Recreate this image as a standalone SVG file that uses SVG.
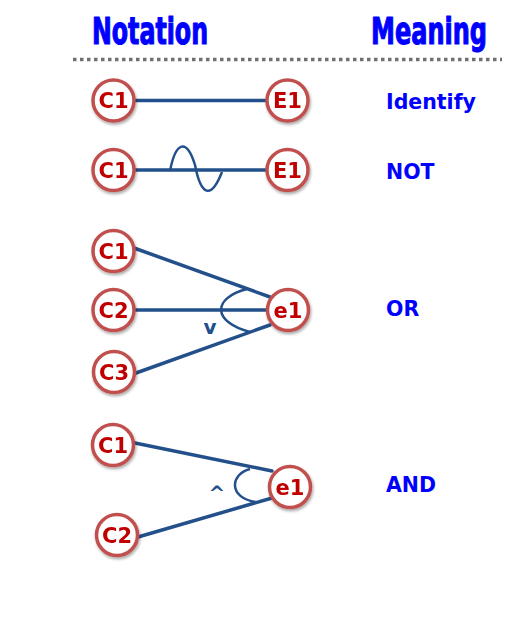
<svg xmlns="http://www.w3.org/2000/svg" width="532" height="625" viewBox="0 0 532 625">
<defs>
<filter id="sh" x="-30%" y="-30%" width="160%" height="160%">
<feGaussianBlur in="SourceAlpha" stdDeviation="1.5"/>
<feOffset dx="1" dy="2" result="b"/>
<feComponentTransfer><feFuncA type="linear" slope="0.35"/></feComponentTransfer>
<feMerge><feMergeNode/><feMergeNode in="SourceGraphic"/></feMerge>
</filter>
</defs>
<style>
.hd{font-family:"Liberation Sans Narrow","DejaVu Sans Condensed",sans-serif;font-weight:bold;font-size:38px;fill:#0000ff;stroke:#0000ff;stroke-width:1.1;stroke-linejoin:round}
.mn{font-family:"DejaVu Sans",Verdana,sans-serif;font-weight:bold;font-size:20.5px;fill:#0000ff}
.nd circle{fill:#ffffff;stroke:#c0504d;stroke-width:3.5}
.nd text{font-family:"DejaVu Sans",Verdana,sans-serif;font-weight:bold;font-size:21px;fill:#c00000;text-anchor:middle}
.ln{stroke:#23508a;stroke-width:3.5;fill:none;stroke-linecap:round}
.th{stroke:#23508a;stroke-width:2.5;fill:none}
.op{font-family:"DejaVu Sans",Verdana,sans-serif;font-weight:bold;font-size:20px;fill:#23508a;text-anchor:middle}
</style>
<rect width="532" height="625" fill="#ffffff"/>
<text class="hd" x="92" y="44" textLength="116" lengthAdjust="spacingAndGlyphs">Notation</text>
<text class="hd" x="371" y="44" textLength="116" lengthAdjust="spacingAndGlyphs">Meaning</text>
<line x1="73" y1="59.5" x2="502" y2="59.5" stroke="#707070" stroke-width="3.5" stroke-dasharray="3.5 3.5"/>
<g id="labels">
<text class="mn" x="386" y="109">Identify</text>
<text class="mn" x="386" y="179">NOT</text>
<text class="mn" x="386" y="316">OR</text>
<text class="mn" x="386" y="492">AND</text>
</g>
<g id="connectors">
<line class="ln" x1="134" y1="100.5" x2="267" y2="100.5"/>
<line class="ln" x1="134" y1="170" x2="267" y2="170"/>
<path class="th" d="M170,171 C176,140 187,139 195,165 C201,196 211,200 222,172"/>
<line class="ln" x1="134" y1="248" x2="270" y2="297"/>
<line class="ln" x1="135" y1="310" x2="267" y2="310"/>
<line class="ln" x1="136" y1="373" x2="270" y2="325"/>
<path class="th" d="M247,289 C212,298 212,322 250,332"/>
<text class="op" x="210" y="334">v</text>
<line class="ln" x1="135" y1="443" x2="272" y2="471"/>
<line class="ln" x1="138" y1="537" x2="272" y2="498"/>
<path class="th" d="M250,469 C230,474 228,498 256,502"/>
<text class="op" x="217" y="500">^</text>
</g>
<g id="n1" class="nd" filter="url(#sh)"><circle cx="113.5" cy="100.5" r="20.5"/><text x="113.5" y="108">C1</text></g>
<g id="n2" class="nd" filter="url(#sh)"><circle cx="287.5" cy="100.5" r="20.5"/><text x="287.5" y="108">E1</text></g>
<g id="n3" class="nd" filter="url(#sh)"><circle cx="113.5" cy="170" r="20.5"/><text x="113.5" y="177.5">C1</text></g>
<g id="n4" class="nd" filter="url(#sh)"><circle cx="287.5" cy="170" r="20.5"/><text x="287.5" y="177.5">E1</text></g>
<g id="n5" class="nd" filter="url(#sh)"><circle cx="113.5" cy="251" r="20.5"/><text x="113.5" y="258.5">C1</text></g>
<g id="n6" class="nd" filter="url(#sh)"><circle cx="113.5" cy="310" r="20.5"/><text x="113.5" y="317.5">C2</text></g>
<g id="n7" class="nd" filter="url(#sh)"><circle cx="114" cy="372" r="20.5"/><text x="114" y="379.5">C3</text></g>
<g id="n8" class="nd" filter="url(#sh)"><circle cx="288" cy="310" r="20.5"/><text x="288" y="317.5">e1</text></g>
<g id="n9" class="nd" filter="url(#sh)"><circle cx="113" cy="445" r="20.5"/><text x="113" y="452.5">C1</text></g>
<g id="n10" class="nd" filter="url(#sh)"><circle cx="117" cy="535" r="20.5"/><text x="117" y="542.5">C2</text></g>
<g id="n11" class="nd" filter="url(#sh)"><circle cx="290" cy="487" r="20.5"/><text x="290" y="494.5">e1</text></g>
</svg>
